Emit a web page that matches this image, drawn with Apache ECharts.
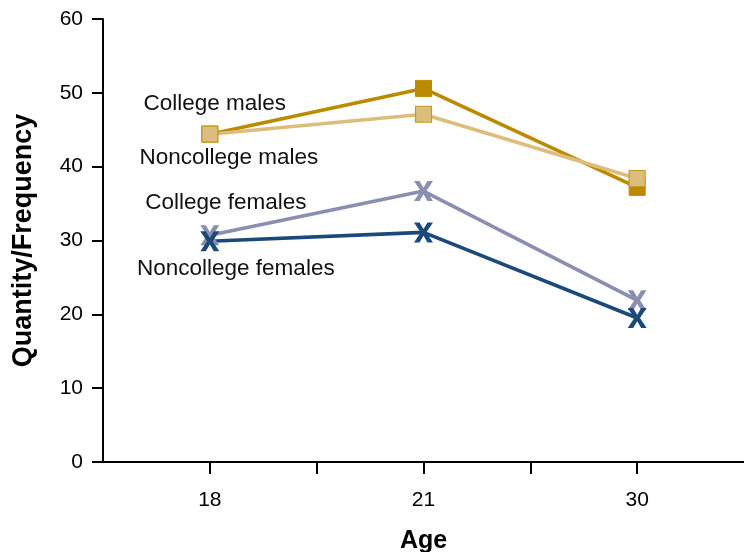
<!DOCTYPE html>
<html>
<head>
<meta charset="utf-8">
<script src="https://cdn.jsdelivr.net/npm/echarts@6/dist/echarts.min.js"></script>
<style>html,body{margin:0;padding:0;background:#fff}#c{width:744px;height:552px}</style>
</head>
<body>
<div id="c"></div>
<script>
var categories = ['18', '21', '30'];
var seriesNames = ['College males', 'Noncollege males', 'College females', 'Noncollege females'];
var collegeMales = [44.4, 50.6, 37.2];
var noncollegeMales = [44.4, 47.1, 38.4];
var collegeFemales = [30.7, 36.7, 21.9];
var noncollegeFemales = [29.9, 31.1, 19.5];
var yTicks = [0, 10, 20, 30, 40, 50, 60];

var FONT = '"Liberation Sans", Arial, Helvetica, sans-serif';
var X_PATH = 'path://M0,0 L2.9,0 L5,4.0 L7.1,0 L10,0 L6.5,6 L10,12 L7.1,12 L5,8.0 L2.9,12 L0,12 L3.5,6 Z';

function pos(i) { return 2 * i + 1; }

function build(name, vals, color, symbol, size, itemStyle, labelOffset) {
  return {
    name: name,
    type: 'line',
    data: vals.map(function (v, i) {
      var d = { value: [pos(i), v] };
      if (i === 0) {
        d.label = {
          show: true, position: 'inside', offset: labelOffset,
          formatter: name, color: '#111', fontSize: 22.5, fontFamily: FONT
        };
      }
      return d;
    }),
    symbol: symbol,
    symbolSize: size,
    showAllSymbol: true,
    lineStyle: { color: color, width: 3.6 },
    itemStyle: itemStyle,
    emphasis: { disabled: true },
    animation: false
  };
}

var chart = echarts.init(document.getElementById('c'), null, { renderer: 'canvas' });
chart.setOption({
  backgroundColor: '#ffffff',
  animation: false,
  grid: { left: 103, right: 0, top: 19, bottom: 90, containLabel: false, outerBoundsMode: 'none' },
  xAxis: {
    type: 'value', min: 0, max: 6, interval: 1,
    name: 'Age', nameLocation: 'middle', nameGap: 67,
    nameTextStyle: { fontSize: 25, fontWeight: 'bold', color: '#000', fontFamily: FONT },
    axisLine: { show: true, lineStyle: { color: '#000', width: 2 } },
    axisTick: { show: true, length: 12, lineStyle: { color: '#000', width: 2 }, customValues: [1, 2, 3, 4, 5] },
    axisLabel: {
      show: true, margin: 28, fontSize: 21, color: '#000', fontFamily: FONT,
      customValues: categories.map(function (c, i) { return pos(i); }),
      formatter: function (v) { var i = (v - 1) / 2; return categories[i] !== undefined ? categories[i] : ''; }
    },
    splitLine: { show: false }
  },
  yAxis: {
    type: 'value', min: yTicks[0], max: yTicks[yTicks.length - 1], interval: 10,
    name: 'Quantity/Frequency', nameLocation: 'middle', nameGap: 66, nameRotate: 90,
    nameTextStyle: { fontSize: 27, fontWeight: 'bold', color: '#000', fontFamily: FONT },
    axisLine: { show: true, lineStyle: { color: '#000', width: 2 } },
    axisTick: { show: true, length: 11, lineStyle: { color: '#000', width: 2 } },
    axisLabel: { margin: 20, fontSize: 21, color: '#000', fontFamily: FONT },
    splitLine: { show: false }
  },
  series: [
    build(seriesNames[0], collegeMales, '#BA8A00', 'rect', 16,
      { color: '#BA8A00', borderColor: '#BA8A00', borderWidth: 1 }, [5, -30]),
    build(seriesNames[1], noncollegeMales, '#DDBD7B', 'rect', 16,
      { color: '#DDBD7B', borderColor: '#C49A2E', borderWidth: 1.2 }, [19, 24]),
    build(seriesNames[2], collegeFemales, '#8A8FAF', X_PATH, [19, 20],
      { color: '#8A8FAF' }, [16, -33]),
    build(seriesNames[3], noncollegeFemales, '#1B4A7A', X_PATH, [19, 20],
      { color: '#1B4A7A' }, [26, 28])
  ]
});
</script>
</body>
</html>
